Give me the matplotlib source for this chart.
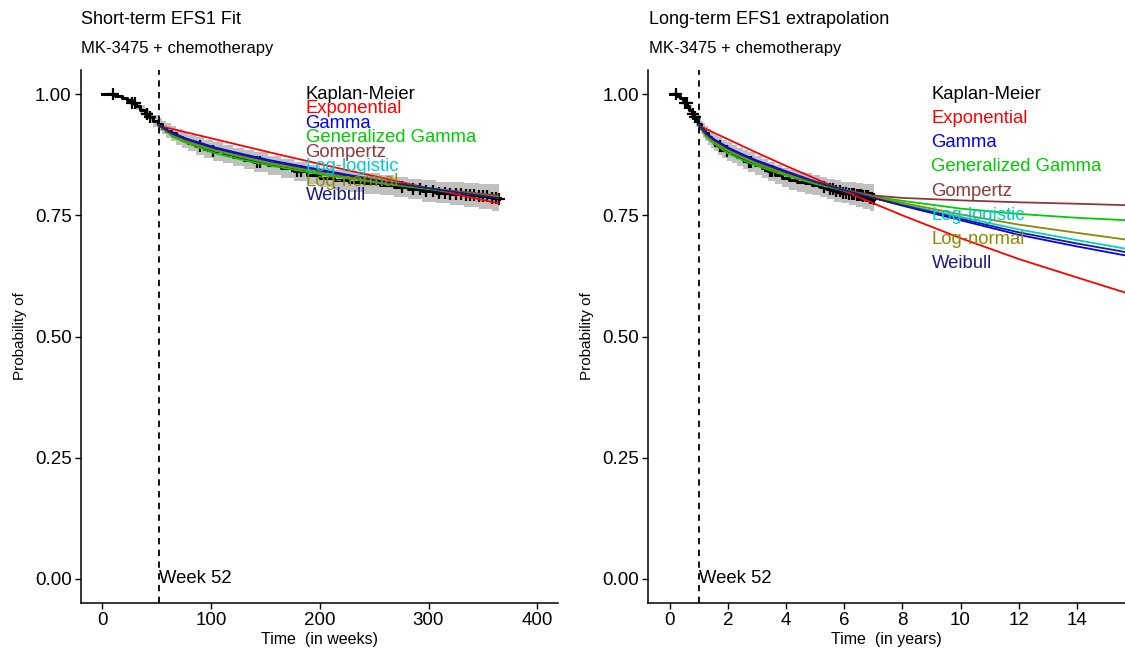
import numpy as np
import matplotlib
matplotlib.use("Agg")
import matplotlib.pyplot as plt

plt.rcParams['font.family'] = ['Liberation Sans', 'DejaVu Sans']

# Kaplan-Meier (weeks)
km_week = [0, 12, 18, 23, 27, 31, 35, 39, 43, 47, 51, 55, 59, 63, 68, 73, 79, 86, 94, 102,
           111, 120, 130, 140, 152, 164, 176, 188, 200, 213, 227, 241, 255, 268, 281, 294,
           307, 320, 333, 346, 358, 365]
km_surv = [1.0, .996, .992, .988, .982, .976, .968, .960, .952, .945,
           .938, .931, .925, .919, .912, .905, .899, .893, .887, .882,
           .877, .871, .865, .860, .853, .847, .841, .834, .828, .823,
           .819, .816, .812, .808, .804, .800, .797, .795, .792, .789,
           .786, .783]
km_lo = [1.000, .994, .989, .983, .976, .968, .959, .950, .941, .933,
         .925, .917, .910, .903, .896, .888, .882, .875, .869, .863,
         .858, .852, .846, .840, .833, .827, .821, .814, .808, .802,
         .798, .795, .791, .787, .783, .778, .775, .772, .768, .763,
         .758, .753]
km_hi = [1.000, .998, .995, .993, .988, .984, .977, .970, .963, .957,
         .951, .945, .940, .935, .928, .922, .916, .911, .905, .901,
         .896, .890, .884, .880, .873, .867, .861, .854, .848, .844,
         .840, .837, .833, .829, .825, .822, .819, .818, .816, .815,
         .814, .813]
censor_week = [10, 27, 30, 41, 44, 90, 102, 142, 145, 179, 183, 276, 286, 292, 298,
               304, 310, 315, 320, 325, 330, 334, 338, 342, 346, 350, 354, 358, 362, 365]

# parametric fits (years)
fit_years = [1, 1.25, 1.5, 2, 2.5, 3, 4, 5, 6, 7, 8, 10, 12, 14, 15.7]
exponential = [0.935, 0.928, 0.921, 0.907, 0.893, 0.879, 0.852, 0.826, 0.800, 0.775, 0.750, 0.703, 0.660, 0.622, 0.590]
gamma = [0.936, 0.920, 0.908, 0.890, 0.876, 0.863, 0.841, 0.820, 0.802, 0.786, 0.770, 0.740, 0.710, 0.686, 0.667]
gen_gamma = [0.936, 0.912, 0.899, 0.878, 0.864, 0.852, 0.832, 0.815, 0.801, 0.789, 0.780, 0.764, 0.753, 0.745, 0.740]
gompertz = [0.936, 0.916, 0.903, 0.884, 0.870, 0.857, 0.836, 0.818, 0.803, 0.791, 0.786, 0.781, 0.777, 0.774, 0.771]
log_logistic = [0.936, 0.917, 0.905, 0.886, 0.872, 0.859, 0.838, 0.819, 0.802, 0.787, 0.773, 0.747, 0.721, 0.699, 0.681]
log_normal = [0.936, 0.915, 0.902, 0.883, 0.869, 0.856, 0.836, 0.818, 0.802, 0.788, 0.776, 0.752, 0.731, 0.714, 0.700]
weibull = [0.936, 0.918, 0.906, 0.888, 0.874, 0.861, 0.839, 0.819, 0.802, 0.786, 0.771, 0.743, 0.715, 0.692, 0.674]

labels = ["Kaplan-Meier", "Exponential", "Gamma", "Generalized Gamma", "Gompertz",
          "Log-logistic", "Log-normal", "Weibull"]
colors = ["black", "#FF0000", "#0000FF", "#00CD00", "#8B3A3A", "#00CDCD", "#8B8B00", "#1A1A80"]
fits = [exponential, gamma, gen_gamma, gompertz, log_logistic, log_normal, weibull]

label_y_short = [1.0, 0.97, 0.94, 0.91, 0.88, 0.85, 0.82, 0.79]
label_y_long = [1.0, 0.95, 0.90, 0.85, 0.80, 0.75, 0.70, 0.65]

fig = plt.figure(figsize=(11.25, 6.52), dpi=100)
W, H = 1125, 652
ax1 = fig.add_axes([80.7 / W, 49 / H, 477.3 / W, 533 / H])
ax2 = fig.add_axes([648.3 / W, 49 / H, (W - 648.3) / W, 533 / H])

km_week = np.array(km_week, dtype=float)
km_surv = np.array(km_surv)
censor_week = np.array(censor_week, dtype=float)
censor_surv = km_surv[np.searchsorted(km_week, censor_week, side='right') - 1]
fit_years = np.array(fit_years)


def draw_panel(ax, scale, label_x, label_y, vline, xlim, xticks, xlabel, max_t):
    ax.fill_between(km_week * scale, km_lo, km_hi, step='post', color='#C0C0C0', lw=0, zorder=1)
    ax.plot(km_week * scale, km_surv, drawstyle='steps-post', color='black', lw=2.2, zorder=2)
    ax.plot(censor_week * scale, censor_surv, ls='none', marker='+', ms=8, mew=1.6,
            color='black', zorder=2)
    mask = fit_years <= max_t
    for vals, col in zip(fits, colors[1:]):
        ax.plot(fit_years[mask] * 52 * scale, np.array(vals)[mask], color=col, lw=1.3, zorder=3)
    ax.axvline(vline, color='black', ls=(0, (3.5, 3)), lw=1.3, zorder=4)
    ax.text(vline, 0.0, "Week 52", ha='left', va='center', fontsize=13.3, zorder=5)
    for lab, col, yy in zip(labels, colors, label_y):
        ax.text(label_x, yy, lab, color=col, ha='left', va='center', fontsize=13.3, zorder=5)
    ax.set_xlim(*xlim)
    ax.set_ylim(-0.05, 1.05)
    ax.set_xticks(xticks)
    ax.set_yticks([0, 0.25, 0.5, 0.75, 1.0])
    ax.set_yticklabels(["0.00", "0.25", "0.50", "0.75", "1.00"])
    ax.tick_params(labelsize=13.5, length=4, width=1, pad=2.5, colors='black')
    for s in ['top', 'right']:
        ax.spines[s].set_visible(False)
    for s in ['left', 'bottom']:
        ax.spines[s].set_linewidth(1.1)
    ax.set_xlabel(xlabel, fontsize=11.5, labelpad=2)
    ax.set_ylabel("Probability of", fontsize=11, labelpad=6)


draw_panel(ax1, 1.0, 187, label_y_short, 52, (-19.7, 419), [0, 100, 200, 300, 400],
           "Time  (in weeks)", 7.0)
draw_panel(ax2, 1 / 52, 9, label_y_long, 1, (-0.744, 15.66), [0, 2, 4, 6, 8, 10, 12, 14],
           "Time  (in years)", 20)

fig.text(81 / W, 1 - 20 / H, "Short-term EFS1 Fit", fontsize=13, ha='left', va='center')
fig.text(81 / W, 1 - 48 / H, "MK-3475 + chemotherapy", fontsize=12, ha='left', va='center')
fig.text(649 / W, 1 - 20 / H, "Long-term EFS1 extrapolation", fontsize=13, ha='left', va='center')
fig.text(649 / W, 1 - 48 / H, "MK-3475 + chemotherapy", fontsize=12, ha='left', va='center')

fig.savefig("out.png", dpi=100)
